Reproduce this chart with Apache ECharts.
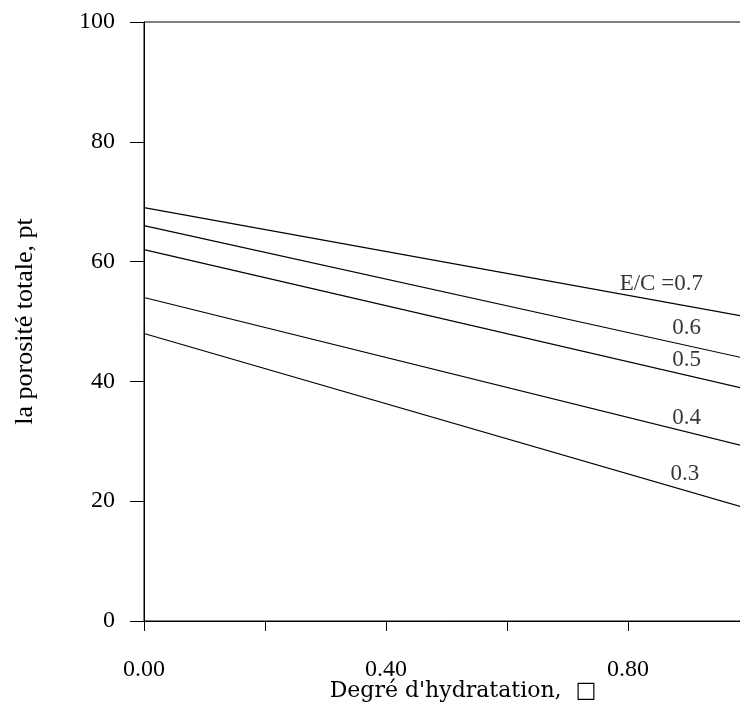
<!DOCTYPE html>
<html>
<head>
<meta charset="utf-8">
<script src="https://cdn.jsdelivr.net/npm/echarts@6/dist/echarts.min.js"></script>
<style>
html,body{margin:0;padding:0;background:#fff;}
#main{width:740px;height:704px;}
</style>
</head>
<body>
<div id="main"></div>
<script>
// Degree of hydration (x) endpoints
const hydration = [0, 1.0];
// Total porosity for each E/C ratio
const ratios = ['0.7', '0.6', '0.5', '0.4', '0.3'];
const porosity07 = [69, 50.7];
const porosity06 = [66, 43.7];
const porosity05 = [62, 38.6];
const porosity04 = [54, 29.0];
const porosity03 = [48, 18.7];
// Line label text and anchor (data coords)
const labelTexts = ['E/C =0.7', '0.6', '0.5', '0.4', '0.3'];
const labelX = [0.855, 0.897, 0.897, 0.897, 0.894];
const labelY = [56.3, 48.9, 43.6, 33.9, 24.5];
const xTickLabels = ['0.00', '0.40', '0.80'];

const allSeries = [porosity07, porosity06, porosity05, porosity04, porosity03];
const serif = 'Liberation Serif';

const chart = echarts.init(document.getElementById('main'), null, {renderer: 'canvas'});
const lineSeries = allSeries.map((vals, i) => ({
  type: 'line',
  name: 'E/C ' + ratios[i],
  data: hydration.map((x, j) => [x, vals[j]]),
  showSymbol: false,
  symbol: 'none',
  lineStyle: {color: '#000', width: 1.2},
  silent: true,
  animation: false
}));

const labelSeries = {
  type: 'scatter',
  symbolSize: 1,
  itemStyle: {color: 'transparent'},
  data: labelTexts.map((t, i) => [labelX[i], labelY[i], t]),
  label: {
    show: true,
    position: 'inside',
    formatter: p => p.data[2],
    color: '#000',
    textBorderWidth: 0,
    textBorderColor: 'transparent',
    fontFamily: serif,
    fontSize: 23
  },
  silent: true,
  animation: false
};

chart.setOption({
  animation: false,
  backgroundColor: '#fff',
  grid: {left: 144, top: 22, width: 605, height: 599, outerBoundsMode: 'none', containLabel: false, show: true, borderColor: '#000', borderWidth: 1, backgroundColor: 'transparent'},
  xAxis: {
    type: 'value',
    min: 0,
    max: 1.0,
    interval: 0.2,
    name: "Degré d'hydratation,  □",
    nameLocation: 'middle',
    nameGap: 59,
    nameMoveOverlap: false,
    nameTextStyle: {fontFamily: 'DejaVu Serif', fontSize: 22, color: '#000', padding: [0, 0, 0, 33]},
    axisLine: {show: true, onZero: false, lineStyle: {color: '#000', width: 1}},
    axisTick: {show: true, inside: false, length: 10, lineStyle: {color: '#000'}},
    axisLabel: {
      color: '#000', fontFamily: serif, fontSize: 24, margin: 37,
      formatter: v => {
        const s = v.toFixed(2);
        return xTickLabels.indexOf(s) >= 0 ? s : '';
      }
    },
    splitLine: {show: false}
  },
  yAxis: {
    type: 'value',
    min: 0,
    max: 100,
    interval: 20,
    name: 'la porosité totale, pt',
    nameLocation: 'middle',
    nameRotate: 90,
    nameGap: 106,
    nameMoveOverlap: false,
    nameTextStyle: {fontFamily: serif, fontSize: 26, color: '#000'},
    axisLine: {show: true, onZero: false, lineStyle: {color: '#000', width: 1}},
    axisTick: {show: true, inside: false, length: 14, lineStyle: {color: '#000'}},
    axisLabel: {color: '#000', fontFamily: serif, fontSize: 24, margin: 29},
    splitLine: {show: false}
  },
  series: [...lineSeries, labelSeries]
});
</script>
</body>
</html>
